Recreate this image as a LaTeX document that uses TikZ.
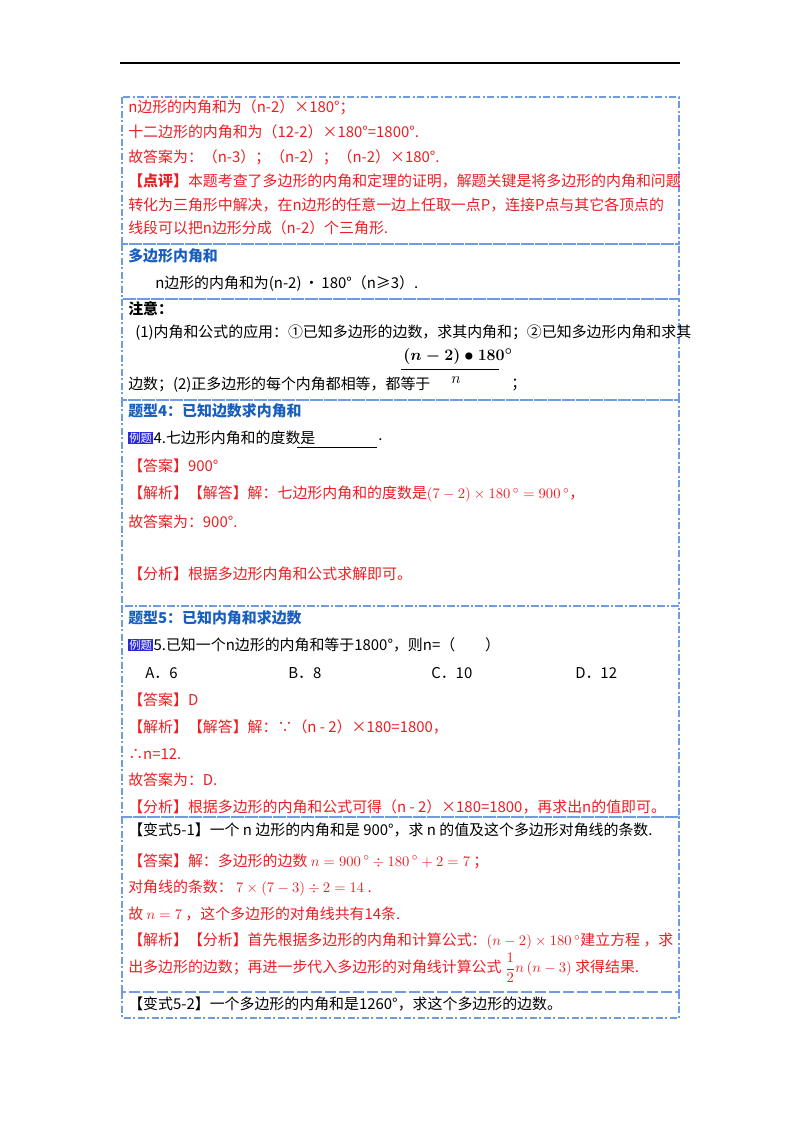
\documentclass[tikz,border=0pt]{standalone}
\usepackage{amsmath}
\usepackage{fontspec}
\setmainfont{Noto Sans CJK SC}
\definecolor{rd}{RGB}{235,30,35}
\definecolor{bh}{RGB}{25,95,190}
\definecolor{bd}{RGB}{110,155,225}
\definecolor{bg}{RGB}{40,40,220}
\begin{document}
\begin{tikzpicture}[x=0.75pt,y=-0.75pt,
  t/.style={anchor=west,inner sep=0pt,font=\fontsize{11.2}{12}\selectfont},
  r/.style={t,text=rd},
  h/.style={t,text=bh,font=\fontsize{11.2}{12}\selectfont\bfseries},
  bl/.style={draw=bd,line width=0.8pt,dash pattern=on 5pt off 2pt on 1.5pt off 2pt},
  badge/.style={anchor=west,fill=bg,text=white,inner sep=0.8pt,font=\fontsize{8.5}{9}\selectfont}]
\useasboundingbox (0,0) rectangle (800,1132);
\draw[line width=0.8pt] (120,63) -- (680,63);
% boxes
\foreach \ya/\yb in {97/244,244/299,299/400,400/606,606/817,817/992,992/1018}{
  \draw[bl] (122,\ya) rectangle (679,\yb);
}
% block 1
\node[r] (a1) at (128,107) {n边形的内角和为（n-2）×180°；};
\node[r] (a2) at (128,132) {十二边形的内角和为（12-2）×180°=1800°.};
\node[r] (a3) at (128,157) {故答案为：（n-3）；（n-2）；（n-2）×180°.};
\node[r] (a4) at (128,181) {\textbf{【点评】}本题考查了多边形的内角和定理的证明，解题关键是将多边形的内角和问题};
\node[r] (a5) at (128,205) {转化为三角形中解决，在n边形的任意一边上任取一点P，连接P点与其它各顶点的};
\node[r] (a6) at (128,228) {线段可以把n边形分成（n-2）个三角形.};
% block 2
\node[h] (b1) at (128,256) {多边形内角和};
\node[t] (b2) at (155,284) {n边形的内角和为(n-2)\,•\,180°（n≥3）.};
% block 3
\node[t,font=\fontsize{11.2}{12}\selectfont\bfseries] (c1) at (128,309) {注意：};
\node[t] (c2) at (135,333) {(1)内角和公式的应用：①已知多边形的边数，求其内角和；②已知多边形内角和求其};
\node[t] (c3) at (128,385) {边数；(2)正多边形的每个内角都相等，都等于};
\node[inner sep=0pt,font=\fontsize{12.5}{13}\selectfont] (c4) at (458,356) {$\boldsymbol{(n-2)\bullet180^\circ}$};
\draw[line width=0.8pt] (c4.south west)++(-2,5) -- ++(98,0);
\node[inner sep=0pt,font=\fontsize{12}{12}\selectfont] (c5) at (456,380) {$n$};
\node[t] (c6) at (511,385) {；};
% block 4
\node[h] (d1) at (128,411) {题型4：已知边数求内角和};
\node[badge] (d2) at (128,438) {例题};
\node[t] (d3) at (d2.east) {4.七边形内角和的度数是};
\draw (297,447) -- (377,447);
\node[t] (d4) at (378,440) {.};
\node[r] (d5) at (128,466) {【答案】900°};
\node[r] (d6) at (128,494) {【解析】【解答】解：七边形内角和的度数是$\left(7-2\right)\times180\,^\circ=900\,^\circ$，};
\node[r] (d7) at (128,522) {故答案为：900°.};
\node[r] (d8) at (128,574) {【分析】根据多边形内角和公式求解即可。};
% block 5
\node[h] (e1) at (128,618) {题型5：已知内角和求边数};
\node[badge] (e2) at (128,645) {例题};
\node[t] (e3) at (e2.east) {5.已知一个n边形的内角和等于1800°，则n=（\qquad）};
\node[t] (e4) at (145,673) {A．6};
\node[t] (e5) at (288,673) {B．8};
\node[t] (e6) at (431,673) {C．10};
\node[t] (e7) at (575,673) {D．12};
\node[r] (e8) at (128,700) {【答案】D};
\node[r] (e9) at (128,727) {【解析】【解答】解：∵（n - 2）×180=1800，};
\node[r] (e10) at (128,754) {∴n=12.};
\node[r] (e11) at (128,780) {故答案为：D.};
\node[r] (e12) at (128,807) {【分析】根据多边形的内角和公式可得（n - 2）×180=1800，再求出n的值即可。};
% block 6
\node[t] (f1) at (128,830) {【变式5-1】一个 n 边形的内角和是 900°，求 n 的值及这个多边形对角线的条数.};
\node[r] (f2) at (128,861) {【答案】解：多边形的边数 $n=900\,^\circ\div180\,^\circ+2=7$ ；};
\node[r] (f3) at (128,888) {对角线的条数：\ $7\times\left(7-3\right)\div2=14$ .};
\node[r] (f4) at (128,914) {故 $n=7$ ，这个多边形的对角线共有14条.};
\node[r] (f5) at (128,941) {【解析】【分析】首先根据多边形的内角和计算公式：$\left(n-2\right)\times180\,^\circ$建立方程 ，求};
\node[r] (f6) at (128,968) {出多边形的边数；再进一步代入多边形的对角线计算公式 $\dfrac12n\left(n-3\right)$ 求得结果.};
% block 7
\node[t] (g1) at (128,1004) {【变式5-2】一个多边形的内角和是1260°，求这个多边形的边数。};
\end{tikzpicture}
\end{document}
